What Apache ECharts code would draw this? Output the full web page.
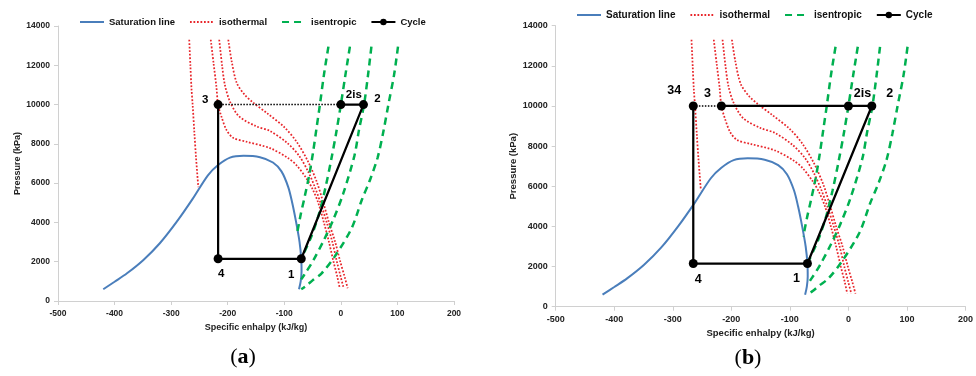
<!DOCTYPE html>
<html>
<head>
<meta charset="utf-8">
<script src="https://cdn.jsdelivr.net/npm/echarts@6/dist/echarts.min.js"></script>
<style>
  html, body { margin: 0; padding: 0; background: #ffffff; }
  #chart { width: 976px; height: 376px; }
</style>
</head>
<body>
<div id="chart"></div>
<script>
// CO2 transcritical cycle on the pressure-enthalpy plane, two variants side by side.

// Saturation dome (liquid and vapour branches)
const satEnthalpy = [-420, -400, -378, -349, -320, -290, -262, -235, -217, -196, -172, -143, -120, -105, -93, -86, -79, -73, -70, -69.5, -71, -74];
const satPressure = [600, 980, 1410, 2090, 2940, 4040, 5200, 6400, 6920, 7300, 7390, 7320, 7050, 6600, 5800, 5000, 4000, 3000, 2150, 1500, 1000, 600];

// Isotherms
const isoT1Enthalpy = [-268, -266, -264, -262, -259, -256, -252];
const isoT1Pressure = [13300, 12000, 10800, 10000, 8600, 7300, 5800];
const isoT2Enthalpy = [-230, -225, -220, -217, -211, -202, -190, -167, -125, -93, -78, -61, -50, -40, -30, -21, -13, -6, -2];
const isoT2Pressure = [13300, 12100, 10900, 10000, 9380, 8700, 8300, 8110, 7780, 7270, 6900, 6250, 5700, 5000, 4000, 3000, 2000, 1200, 650];
const isoT3Enthalpy = [-215, -210, -205, -196, -180, -150, -125, -95, -74, -58, -46, -36, -25, -15, -7, 0, 5];
const isoT3Pressure = [13300, 12000, 11000, 10150, 9400, 8900, 8650, 8050, 7400, 6600, 5800, 5000, 4000, 3000, 2000, 1200, 650];
const isoT4Enthalpy = [-199, -193, -184, -170, -155, -130, -100, -78, -58, -43, -32, -21, -10, -1, 7, 12];
const isoT4Pressure = [13300, 12200, 11100, 10500, 10100, 9550, 8850, 8100, 7100, 6100, 5100, 4000, 3000, 2000, 1200, 650];

// Isentropes
const isoS1Enthalpy = [-22, -30, -37, -43, -49, -56, -64, -71, -77];
const isoS1Pressure = [12950, 11500, 10000, 8800, 7600, 6400, 5300, 4400, 3500];
const isoS2Enthalpy = [16, 8, 0, -8, -17, -27, -38, -52, -70];
const isoS2Pressure = [12950, 11500, 10000, 8600, 7200, 5800, 4500, 3300, 2150];
const isoS3Enthalpy = [54, 48, 41, 32, 24, 4, -14, -30, -49, -62, -70];
const isoS3Pressure = [12950, 11500, 10000, 8700, 7400, 5450, 4100, 3100, 2050, 1450, 1100];
const isoS4Enthalpy = [101, 94, 84, 75, 65, 52, 37, 19, -11, -34, -50, -61, -70];
const isoS4Pressure = [12950, 11500, 10000, 8600, 7300, 6200, 5140, 3700, 2260, 1410, 1050, 780, 600];

// Cycle state points, variant (a)
const cycleANames = ['3', '4', '1', '2', '2is'];
const cycleAEnthalpy = [-217, -217, -70, 40, 0];
const cycleAPressure = [10000, 2150, 2150, 10000, 10000];

// Cycle state points, variant (b)
const cycleBNames = ['34', '4', '1', '2', '2is', '3'];
const cycleBEnthalpy = [-265, -265, -70, 40, 0, -217];
const cycleBPressure = [10000, 2150, 2150, 10000, 10000, 10000];

const legendNames = ['Saturation line', 'isothermal', 'isentropic', 'Cycle'];
const panelTags = ['a', 'b'];

const FONT = '"Liberation Sans", Arial, sans-serif';
const SERIF = '"Liberation Serif", "DejaVu Serif", serif';

const pairs = (h, p) => h.map((v, i) => [v, p[i]]);

const isotherms = [
  [isoT1Enthalpy, isoT1Pressure], [isoT2Enthalpy, isoT2Pressure],
  [isoT3Enthalpy, isoT3Pressure], [isoT4Enthalpy, isoT4Pressure]
];
const isentropes = [
  [isoS1Enthalpy, isoS1Pressure], [isoS2Enthalpy, isoS2Pressure],
  [isoS3Enthalpy, isoS3Pressure], [isoS4Enthalpy, isoS4Pressure]
];

// label placement around each state point (pixels from the marker centre)
const labelOffsetsA = { '3': [-13, -5], '4': [3, 15], '1': [-10, 16], '2': [14, -6], '2is': [13, -10] };
const labelOffsetsB = { '34': [-19, -15], '3': [-14, -12], '4': [5, 16], '1': [-11, 15], '2': [18, -12], '2is': [14, -12] };

function panelSeries(idx, names, hs, ps, offsets, labelSize) {
  const out = [];
  out.push({
    name: 'Saturation line', type: 'line', xAxisIndex: idx, yAxisIndex: idx,
    data: pairs(satEnthalpy, satPressure), smooth: 0.3, symbol: 'none',
    lineStyle: { color: '#4a7ebb', width: 2 }, itemStyle: { color: '#4a7ebb' }, z: 2
  });
  isotherms.forEach(([h, p]) => out.push({
    name: 'isothermal', type: 'line', xAxisIndex: idx, yAxisIndex: idx,
    data: pairs(h, p), smooth: 0.3, symbol: 'none',
    lineStyle: { color: '#e8262b', width: 1.75, type: [1.75, 1.75] }, itemStyle: { color: '#e8262b' }, z: 3
  }));
  isentropes.forEach(([h, p]) => out.push({
    name: 'isentropic', type: 'line', xAxisIndex: idx, yAxisIndex: idx,
    data: pairs(h, p), smooth: 0.3, symbol: 'none',
    lineStyle: { color: '#00b050', width: 2.5, type: [7, 5] }, itemStyle: { color: '#00b050' }, z: 3
  }));
  const last = hs.length - 1;
  out.push({
    name: 'throttle', type: 'line', xAxisIndex: idx, yAxisIndex: idx,
    data: [[hs[last], ps[last]], [hs[0], ps[0]]], symbol: 'none', silent: true,
    lineStyle: { color: '#000', width: 1.5, type: [1.5, 1.5] }, z: 4
  });
  out.push({
    name: 'Cycle', type: 'line', xAxisIndex: idx, yAxisIndex: idx,
    data: hs.map((h, i) => ({
      value: [h, ps[i]], name: names[i],
      label: { offset: offsets[names[i]] }
    })),
    symbol: 'circle', symbolSize: 9,
    lineStyle: { color: '#000', width: 2.25 }, itemStyle: { color: '#000' },
    label: {
      show: true, position: 'inside', formatter: '{b}', color: '#000',
      fontFamily: FONT, fontWeight: 'bold', fontSize: labelSize,
      align: 'center', verticalAlign: 'middle'
    },
    z: 5
  });
  return out;
}

function makeAxes(idx, tickSize, nameSize, xGap, yGap) {
  const label = { color: '#222', fontFamily: FONT, fontWeight: 'bold', fontSize: tickSize, margin: 8,
    formatter: (v) => String(v) };
  const common = {
    gridIndex: idx, type: 'value',
    axisLine: { show: true, onZero: false, lineStyle: { color: '#d0d0d0', width: 1 } },
    axisTick: { show: true, length: 4, lineStyle: { color: '#d0d0d0' } },
    splitLine: { show: false },
    axisLabel: label,
    nameTextStyle: { color: '#222', fontFamily: FONT, fontWeight: 'bold', fontSize: nameSize },
    nameLocation: 'middle'
  };
  return {
    x: Object.assign({}, common, { min: -500, max: 200, interval: 100, name: 'Specific enhalpy (kJ/kg)', nameGap: xGap }),
    y: Object.assign({}, common, { min: 0, max: 14000, interval: 2000, name: 'Pressure (kPa)', nameGap: yGap, nameRotate: 90 })
  };
}

const axA = makeAxes(0, 8.5, 9, 21, 35);
const axB = makeAxes(1, 9, 9.5, 22, 37);

// legend entries: plain line icons for the curves, line + marker for the cycle
const hiddenMarker = { opacity: 0 };
const legendData = legendNames.map((n) => (n === 'Cycle' ? { name: n } : { name: n, itemStyle: hiddenMarker }));

const chart = echarts.init(document.getElementById('chart'), null, { renderer: 'canvas' });
chart.setOption({
  animation: false,
  backgroundColor: '#ffffff',
  grid: [
    { left: 58, top: 26, width: 396, height: 275 },
    { left: 555.7, top: 25.7, width: 414, height: 281 }
  ],
  xAxis: [axA.x, axB.x],
  yAxis: [axA.y, axB.y],
  legend: [
    { data: legendData, left: 79, top: 17, padding: 0, itemWidth: 24, itemHeight: 8, itemGap: 14,
      textStyle: { color: '#111', fontFamily: FONT, fontWeight: 'bold', fontSize: 9.5 }, selectedMode: false },
    { data: legendData, left: 576, top: 10, padding: 0, itemWidth: 24, itemHeight: 8, itemGap: 14,
      textStyle: { color: '#111', fontFamily: FONT, fontWeight: 'bold', fontSize: 10 }, selectedMode: false }
  ],
  graphic: [
    { type: 'text', x: 243, y: 357, style: { text: '{p|(}{b|' + panelTags[0] + '}{p|)}', align: 'center', verticalAlign: 'middle',
      rich: { p: { fontFamily: SERIF, fontSize: 22, fill: '#000' }, b: { fontFamily: SERIF, fontSize: 22, fontWeight: 'bold', fill: '#000' } } } },
    { type: 'text', x: 748, y: 358, style: { text: '{p|(}{b|' + panelTags[1] + '}{p|)}', align: 'center', verticalAlign: 'middle',
      rich: { p: { fontFamily: SERIF, fontSize: 22, fill: '#000' }, b: { fontFamily: SERIF, fontSize: 22, fontWeight: 'bold', fill: '#000' } } } }
  ],
  series: [].concat(
    panelSeries(0, cycleANames, cycleAEnthalpy, cycleAPressure, labelOffsetsA, 11.5),
    panelSeries(1, cycleBNames, cycleBEnthalpy, cycleBPressure, labelOffsetsB, 12.5)
  )
});
</script>
</body>
</html>
